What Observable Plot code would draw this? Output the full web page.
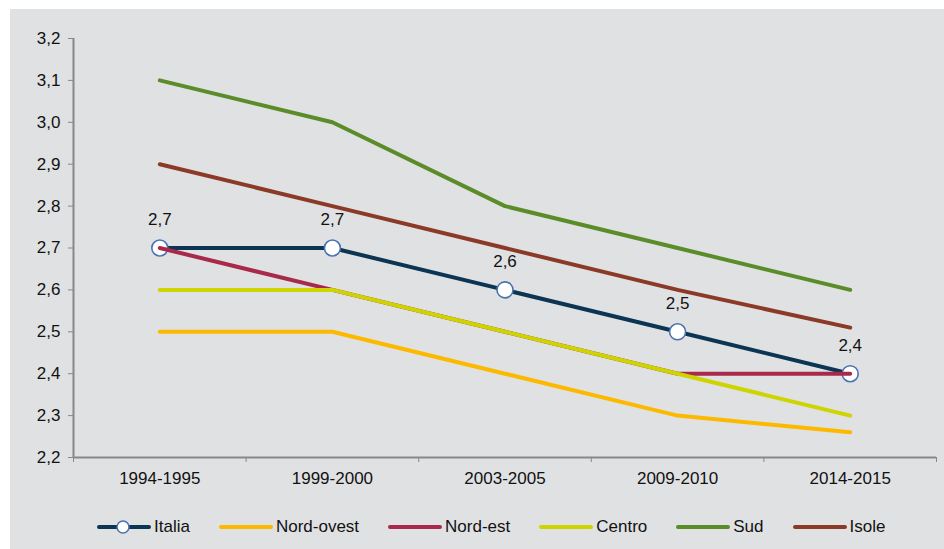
<!DOCTYPE html>
<html>
<head>
<meta charset="utf-8">
<script src="https://cdn.jsdelivr.net/npm/d3@7"></script>
<script src="https://cdn.jsdelivr.net/npm/@observablehq/plot@0.6"></script>
<style>
  body { margin: 0; background: #ffffff; font-family: "Liberation Sans", Arial, sans-serif; }
  #wrap { position: absolute; left: 10px; top: 9px; width: 934px; height: 540px; background: #e0e1e3; }
  #legend { position: absolute; left: 87px; top: 508px; display: flex; gap: 29px; font-size: 17px; color: #111; }
  .item { display: flex; align-items: center; gap: 3px; }
</style>
</head>
<body>
<div id="wrap"><div id="chart"></div><div id="legend"></div></div>
<script>
const periods = ["1994-1995", "1999-2000", "2003-2005", "2009-2010", "2014-2015"];
const seriesNames = ["Italia", "Nord-ovest", "Nord-est", "Centro", "Sud", "Isole"];
const italia    = [2.7, 2.7, 2.6, 2.5, 2.4];
const nordOvest = [2.5, 2.5, 2.4, 2.3, 2.26];
const nordEst   = [2.7, 2.6, 2.5, 2.4, 2.4];
const centro    = [2.6, 2.6, 2.5, 2.4, 2.3];
const sud       = [3.1, 3.0, 2.8, 2.7, 2.6];
const isole     = [2.9, 2.8, 2.7, 2.6, 2.51];
const yTicks = [2.2, 2.3, 2.4, 2.5, 2.6, 2.7, 2.8, 2.9, 3.0, 3.1, 3.2];
const colors = {
  "Italia": "#0b3553", "Nord-ovest": "#fcb900", "Nord-est": "#a8294a",
  "Centro": "#cdd400", "Sud": "#5b8c2a", "Isole": "#8b3a27"
};
const valuesBySeries = {
  "Italia": italia, "Nord-ovest": nordOvest, "Nord-est": nordEst,
  "Centro": centro, "Sud": sud, "Isole": isole
};
const rows = s => valuesBySeries[s].map((v, i) => ({i, v, s}));
const fmt = d => d.toFixed(1).replace(".", ",");
const idx = periods.map((p, i) => i);
const bounds = d3.range(-0.5, periods.length, 1);

const lineMark = s => Plot.line(rows(s), {x: "i", y: "v", stroke: colors[s], strokeWidth: 4, strokeLinecap: "round", strokeLinejoin: "round"});

const chart = Plot.plot({
  width: 934,
  height: 490,
  marginLeft: 63,
  marginRight: 8,
  marginTop: 29,
  marginBottom: 42,
  style: {background: "transparent", fontFamily: "'Liberation Sans', Arial, sans-serif", fontSize: "17px", color: "#111"},
  x: {type: "linear", domain: [-0.5, periods.length - 0.5]},
  y: {domain: [2.2, 3.2]},
  marks: [
    Plot.axisY({ticks: yTicks, tickFormat: fmt, tickSize: 5, tickPadding: 8, stroke: "#888", label: null, fontSize: 17}),
    Plot.axisX({ticks: bounds, tickFormat: () => "", tickSize: 5, stroke: "#888", label: null}),
    Plot.axisX({ticks: idx, tickFormat: i => periods[i], tickSize: 0, tickPadding: 14, label: null, fontSize: 17}),
    Plot.ruleX([-0.5], {stroke: "#888", strokeWidth: 2}),
    Plot.ruleY([2.2], {stroke: "#888", strokeWidth: 2}),
    lineMark("Italia"),
    Plot.dot(rows("Italia"), {x: "i", y: "v", r: 8, fill: "white", stroke: "#4a72b0", strokeWidth: 1.6}),
    lineMark("Nord-ovest"),
    lineMark("Nord-est"),
    lineMark("Centro"),
    lineMark("Sud"),
    lineMark("Isole"),
    Plot.text(rows("Italia"), {x: "i", y: "v", text: d => fmt(d.v), dy: -28, fontSize: 17, fill: "#111"})
  ]
});
document.getElementById("chart").appendChild(chart);

const legend = document.getElementById("legend");
for (const s of seriesNames) {
  const item = document.createElement("div");
  item.className = "item";
  const marker = s === "Italia"
    ? `<circle cx="26" cy="7" r="6" fill="white" stroke="#4a72b0" stroke-width="1.5"/>` : "";
  item.innerHTML = `<svg width="54" height="14"><line x1="2" y1="7" x2="52" y2="7" stroke="${colors[s]}" stroke-width="4" stroke-linecap="round"/>${marker}</svg><span>${s}</span>`;
  legend.appendChild(item);
}
</script>
</body>
</html>
